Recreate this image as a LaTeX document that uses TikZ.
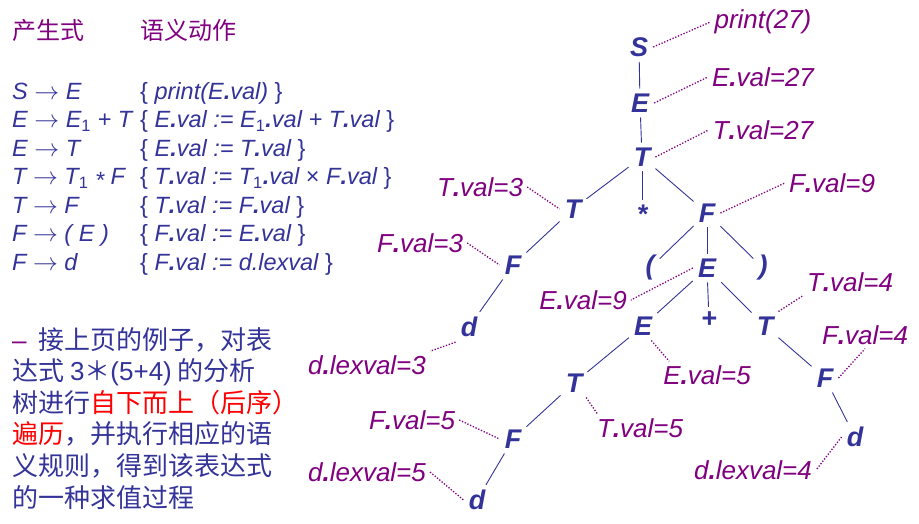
\documentclass[tikz,border=0pt]{standalone}
\usepackage{fontspec}
\setmainfont{Liberation Sans}
\newfontfamily\cjk{Noto Sans CJK SC}
\definecolor{TreeBlue}{HTML}{333399}
\definecolor{AttrPurple}{HTML}{800080}
\definecolor{HiRed}{HTML}{FF0000}
\newcommand{\dt}{\textbf{.}}
\newcommand{\subidx}[1]{\textsubscript{\upshape #1}}
\newcommand{\act}[1]{{\upshape\{} #1 {\upshape\}}}
\newcommand{\prodarrow}{$\rightarrow$}

\begin{document}
\begin{tikzpicture}[x=1pt,y=-1pt,
  gsym/.style={text=TreeBlue,font=\fontsize{27}{27}\selectfont\bfseries\itshape,inner sep=5pt},
  attrlbl/.style={text=AttrPurple,font=\fontsize{26}{26}\selectfont\itshape,inner sep=4pt},
  treeline/.style={draw=TreeBlue,line width=0.9pt},
  attrline/.style={draw=AttrPurple,line width=1.3pt,dash pattern=on 1.3pt off 1.7pt},
  rulerow/.style={text=TreeBlue,font=\fontsize{23.5}{23.5}\selectfont\itshape,anchor=base west,inner sep=0pt},
  heading/.style={anchor=west,inner sep=0pt,text=AttrPurple,font=\fontsize{24}{24}\selectfont\cjk}]
  \useasboundingbox (0,0) rectangle (919,523);

  % headings
  \node[heading] (hProd) at (12,30) {产生式};
  \node[heading] (hAct) at (140,30) {语义动作};

  % grammar with its semantic actions
  \foreach \i/\p/\a in {
      1/{S \prodarrow{} E}/{\act{print(E\dt val)}},
      2/{E \prodarrow{} E\subidx{1} + T}/{\act{E\dt val := E\subidx{1}\dt val + T\dt val}},
      3/{E \prodarrow{} T}/{\act{E\dt val := T\dt val}},
      4/{T \prodarrow{} T\subidx{1} \raisebox{-0.3ex}{*} F}/{\act{T\dt val := T\subidx{1}\dt val {\upshape×} F\dt val}},
      5/{T \prodarrow{} F}/{\act{T\dt val := F\dt val}},
      6/{F \prodarrow{} ( E )}/{\act{F\dt val := E\dt val}},
      7/{F \prodarrow{} d}/{\act{F\dt val := d.lexval}}} {
    \node[rulerow] (prod\i) at (12,{99+28.5*(\i-1)}) {\p};
    \node[rulerow] (act\i) at (140,{99+28.5*(\i-1)}) {\a};
  }

  % note
  \node[anchor=north west,inner sep=0pt,align=left,text=TreeBlue,
        font=\fontsize{26}{31.6}\selectfont\cjk] (note) at (12,327)
    {{\color{AttrPurple}\rmfamily –}\hspace{12pt}接上页的例子，对表\\
     达式 {\rmfamily 3}＊{\rmfamily(5+4)} 的分析\\
     树进行{\color{HiRed}自下而上（后序）}\\
     {\color{HiRed}遍历}，并执行相应的语\\
     义规则，得到该表达式\\
     的一种求值过程};

  % parse tree
  \node[gsym] (nS) at (639,47) {S};
  \node[gsym] (nE) at (640,103) {E};
  \node[gsym] (nT) at (642,157) {T};
  \node[gsym] (nTl) at (573,209) {T};
  \node[gsym] (nStar) at (642,214) {*};
  \node[gsym] (nFr) at (707,213) {F};
  \node[gsym] (nFl) at (513,265) {F};
  \node[gsym] (nD) at (469,327) {d};
  \node[gsym] (nLp) at (650,268) {(};
  \node[gsym] (nEm) at (707,268) {E};
  \node[gsym] (nRp) at (763,268) {)};
  \node[gsym] (nElow) at (643,326) {E};
  \node[gsym] (nPlus) at (709,320) {+};
  \node[gsym] (nTr) at (765,326) {T};
  \node[gsym] (nFrl) at (825,378) {F};
  \node[gsym] (nTm) at (574,383) {T};
  \node[gsym] (nFlow) at (513,439) {F};
  \node[gsym] (nDr) at (855,437) {d};
  \node[gsym] (nDb) at (477,500) {d};

  % attribute values
  \node[attrlbl] (lPrint) at (763,22) {print(27)};
  \node[attrlbl] (lEtop) at (763,77) {E\dt val=27};
  \node[attrlbl] (lTtop) at (763,130) {T\dt val=27};
  \node[attrlbl] (lTl) at (480,187) {T\dt val=3};
  \node[attrlbl] (lFr) at (832,183) {F\dt val=9};
  \node[attrlbl] (lFl) at (420,243) {F\dt val=3};
  \node[attrlbl] (lD) at (367,365) {d\dt lexval=3};
  \node[attrlbl] (lEm) at (583,300) {E\dt val=9};
  \node[attrlbl] (lElow) at (707,375) {E\dt val=5};
  \node[attrlbl] (lTr) at (850,282) {T\dt val=4};
  \node[attrlbl] (lFrl) at (865,335) {F\dt val=4};
  \node[attrlbl] (lTm) at (640,428) {T\dt val=5};
  \node[attrlbl] (lFlow) at (412,420) {F\dt val=5};
  \node[attrlbl] (lDr) at (753,470) {d\dt lexval=4};
  \node[attrlbl] (lDb) at (367,472) {d\dt lexval=5};

  % tree edges
  \draw[treeline] (nS) -- (nE);
  \draw[treeline] (nE) -- (nT);
  \draw[treeline] (nT) -- (nTl);
  \draw[treeline] (nT) -- (nStar);
  \draw[treeline] (nT) -- (nFr);
  \draw[treeline] (nTl) -- (nFl);
  \draw[treeline] (nFl) -- (nD);
  \draw[treeline] (nFr) -- (nLp);
  \draw[treeline] (nFr) -- (nEm);
  \draw[treeline] (nFr) -- (nRp);
  \draw[treeline] (nEm) -- (nElow);
  \draw[treeline] (nEm) -- (nPlus);
  \draw[treeline] (nEm) -- (nTr);
  \draw[treeline] (nElow) -- (nTm);
  \draw[treeline] (nTm) -- (nFlow);
  \draw[treeline] (nFlow) -- (nDb);
  \draw[treeline] (nTr) -- (nFrl);
  \draw[treeline] (nFrl) -- (nDr);

  % dotted links to the values
  \draw[attrline] (nS.east) -- (lPrint.west);
  \draw[attrline] (nE.east) -- (lEtop.west);
  \draw[attrline] (nT.east) -- (lTtop.west);
  \draw[attrline] (lTl.east) -- (nTl.west);
  \draw[attrline] (nFr.east) -- (lFr.west);
  \draw[attrline] (lFl.east) -- (nFl.west);
  \draw[attrline] (nD.south west) -- (lD.north east);
  \draw[attrline] (nEm.west) -- (lEm.east);
  \draw[attrline] (nElow.-60) -- (lElow.160);
  \draw[attrline] (nTr.north east) -- (lTr.south west);
  \draw[attrline] (nFrl.east) -- (lFrl.south);
  \draw[attrline] (nTm.-50) -- (lTm.162);
  \draw[attrline] (lFlow.east) -- (nFlow.west);
  \draw[attrline] (nDr.west) -- (lDr.east);
  \draw[attrline] (lDb.east) -- (nDb.west);
\end{tikzpicture}
\end{document}
